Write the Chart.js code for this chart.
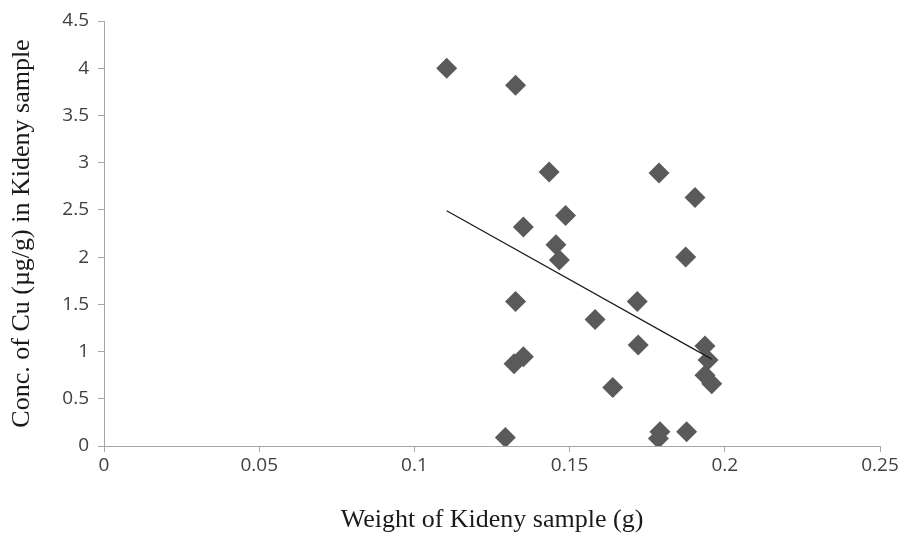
<!DOCTYPE html>
<html>
<head>
<meta charset="utf-8">
<script src="https://cdn.jsdelivr.net/npm/chart.js@4"></script>
<style>
html,body{margin:0;padding:0;background:#fff;}
#wrap{width:905px;height:533px;}
</style>
</head>
<body>
<div id="wrap"><canvas id="c" width="905" height="533"></canvas></div>
<script>
// Weight of kidney sample (g)
const weights = [0.1104,0.1326,0.1434,0.1788,0.1904,0.1487,0.1351,0.1456,0.1467,0.1874,0.1326,0.1718,0.1582,0.1721,0.1936,0.1946,0.1351,0.1321,0.1639,0.1936,0.1958,0.1293,0.1791,0.1786,0.1877];
// Concentration of Cu (µg/g)
const concCu = [4.00,3.82,2.90,2.89,2.63,2.44,2.32,2.13,1.97,2.00,1.53,1.53,1.34,1.07,1.06,0.91,0.945,0.87,0.62,0.75,0.66,0.09,0.15,0.08,0.15];
// Linear trendline end points
const trendX = [0.1104,0.1958];
const trendY = [2.49,0.92];
const xTicks = [0,0.05,0.1,0.15,0.2,0.25];
const yTicks = [0,0.5,1,1.5,2,2.5,3,3.5,4,4.5];

const pts = weights.map((w,i)=>({x:w,y:concCu[i]}));
const trend = trendX.map((x,i)=>({x:x,y:trendY[i]}));

const axisColor = '#a6a6a6';
const tickFont = {family:'"Open Sans", "Liberation Sans", sans-serif', size:19};
const titleFont = {family:'"Liberation Serif", "Times New Roman", serif', size:26, lineHeight:1};

new Chart(document.getElementById('c'), {
  type:'scatter',
  data:{datasets:[
    {data:pts, order:1, pointStyle:'rectRot', pointRadius:10.5, pointHoverRadius:10.5,
     backgroundColor:'#5a5a5a', borderColor:'#5a5a5a', borderWidth:0},
    {type:'line', order:0, data:trend, showLine:true, pointRadius:0, borderColor:'#1a1a1a', borderWidth:1.2, fill:false}
  ]},
  options:{
    responsive:false, animation:false,
    layout:{padding:{top:21,right:25,left:0,bottom:0}},
    plugins:{legend:{display:false}, tooltip:{enabled:false}},
    scales:{
      x:{type:'linear', min:0, max:0.25,
        afterBuildTicks:s=>{s.ticks=xTicks.map(v=>({value:v}));},
        afterFit:s=>{s.height=87;},
        grid:{display:true, drawOnChartArea:false, drawTicks:true, tickLength:6, color:axisColor},
        border:{display:true, color:axisColor, width:1},
        ticks:{font:tickFont, color:'#404040', padding:2, maxRotation:0,
          callback:v=>String(+v.toFixed(2))},
        title:{display:true, text:'Weight of Kideny sample (g)', font:titleFont, color:'#1a1a1a', padding:{top:0,bottom:0}}
      },
      y:{type:'linear', min:0, max:4.5,
        afterBuildTicks:s=>{s.ticks=yTicks.map(v=>({value:v}));},
        afterFit:s=>{s.width=104;},
        grid:{display:true, drawOnChartArea:false, drawTicks:true, tickLength:6, color:axisColor},
        border:{display:true, color:axisColor, width:1},
        ticks:{font:tickFont, color:'#404040', padding:9,
          callback:v=>String(+v.toFixed(1))},
        title:{display:true, text:'Conc. of Cu (µg/g) in Kideny sample', font:titleFont, color:'#1a1a1a', padding:{top:9,bottom:0}}
      }
    }
  }
});
</script>
</body>
</html>
